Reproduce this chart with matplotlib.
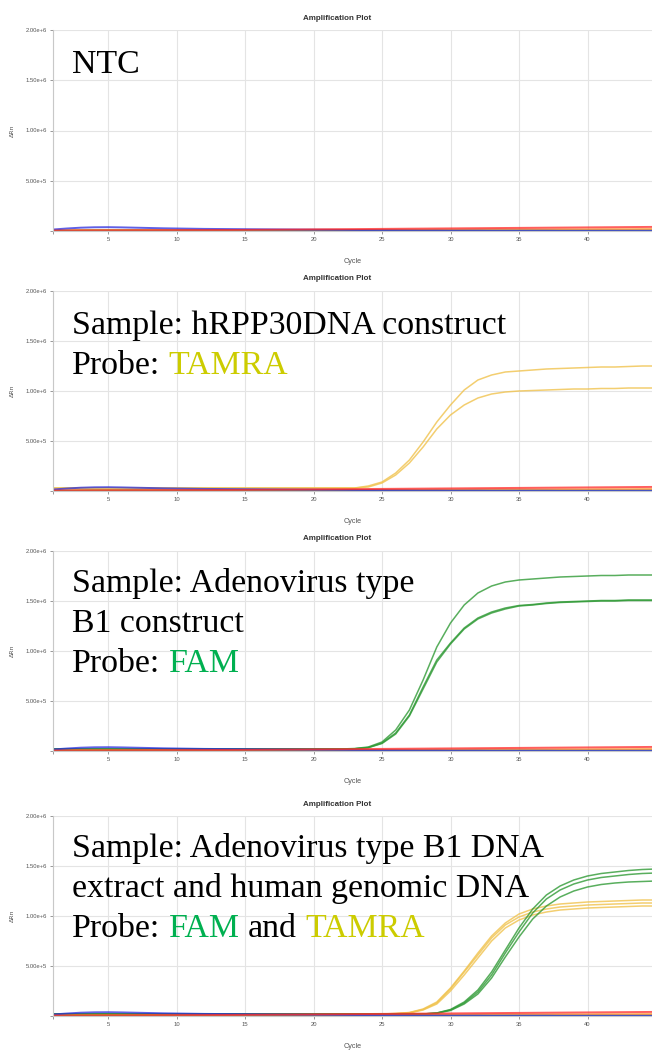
import matplotlib
matplotlib.use("Agg")
import matplotlib.pyplot as plt

# cycles 1..45, values in units of 1e6 dRn
cycles = list(range(1, 46))

# background channels (near-zero), shared by all four runs
blue_base = [0.015, 0.025, 0.033, 0.037, 0.038, 0.036, 0.033, 0.030, 0.027, 0.025, 0.023, 0.021, 0.020, 0.019, 0.018,
             0.017, 0.016, 0.015, 0.014, 0.013, 0.012, 0.011, 0.010, 0.009, 0.008, 0.007, 0.006, 0.005, 0.005, 0.004,
             0.004, 0.004, 0.003, 0.003, 0.003, 0.003, 0.003, 0.002, 0.002, 0.002, 0.002, 0.002, 0.002, 0.002, 0.002]
red_base = [0.004, 0.004, 0.005, 0.005, 0.006, 0.006, 0.007, 0.007, 0.008, 0.008, 0.009, 0.009, 0.010, 0.010, 0.011,
            0.012, 0.013, 0.014, 0.015, 0.016, 0.017, 0.018, 0.019, 0.020, 0.021, 0.022, 0.023, 0.024, 0.025, 0.026,
            0.027, 0.028, 0.029, 0.030, 0.031, 0.032, 0.033, 0.034, 0.035, 0.036, 0.037, 0.038, 0.039, 0.040, 0.041]
orange_base = [0.008, 0.009, 0.010, 0.011, 0.011, 0.011, 0.011, 0.011, 0.011, 0.011, 0.011, 0.011, 0.011, 0.011, 0.011,
               0.011, 0.011, 0.011, 0.011, 0.012, 0.012, 0.012, 0.012, 0.012, 0.013, 0.013, 0.013, 0.013, 0.014, 0.014,
               0.014, 0.015, 0.015, 0.015, 0.016, 0.016, 0.016, 0.017, 0.017, 0.017, 0.018, 0.018, 0.018, 0.019, 0.019]
green_base = [0.004, 0.005, 0.006, 0.007, 0.007, 0.007, 0.007, 0.006, 0.006, 0.006, 0.006, 0.005, 0.005, 0.005, 0.005,
              0.005, 0.005, 0.005, 0.004, 0.004, 0.004, 0.004, 0.004, 0.004, 0.004, 0.004, 0.004, 0.004, 0.004, 0.004,
              0.004, 0.004, 0.004, 0.004, 0.004, 0.004, 0.004, 0.004, 0.004, 0.004, 0.004, 0.004, 0.004, 0.004, 0.004]

# run 2: hRPP30 construct, TAMRA
tamra2_a = [0.03, 0.03, 0.03, 0.03, 0.03, 0.03, 0.03, 0.03, 0.03, 0.03, 0.03, 0.03, 0.03, 0.03, 0.03,
            0.03, 0.03, 0.03, 0.03, 0.03, 0.03, 0.03, 0.03, 0.05, 0.09, 0.18, 0.31, 0.49, 0.69, 0.86,
            1.01, 1.11, 1.16, 1.19, 1.20, 1.21, 1.22, 1.225, 1.23, 1.235, 1.24, 1.24, 1.245, 1.25, 1.25]
tamra2_b = [0.03, 0.03, 0.03, 0.03, 0.03, 0.03, 0.03, 0.03, 0.03, 0.03, 0.03, 0.03, 0.03, 0.03, 0.03,
            0.03, 0.03, 0.03, 0.03, 0.03, 0.03, 0.03, 0.03, 0.04, 0.08, 0.16, 0.28, 0.44, 0.62, 0.76,
            0.86, 0.93, 0.97, 0.99, 1.00, 1.005, 1.01, 1.015, 1.02, 1.02, 1.025, 1.025, 1.03, 1.03, 1.03]

# run 3: adenovirus B1 construct, FAM
fam3_a = [0.02, 0.02, 0.02, 0.02, 0.02, 0.02, 0.02, 0.02, 0.02, 0.02, 0.02, 0.02, 0.02, 0.02, 0.02,
          0.02, 0.02, 0.02, 0.02, 0.02, 0.02, 0.02, 0.025, 0.04, 0.09, 0.21, 0.41, 0.71, 1.04, 1.28,
          1.46, 1.58, 1.65, 1.69, 1.71, 1.72, 1.73, 1.74, 1.745, 1.75, 1.755, 1.755, 1.76, 1.76, 1.76]
fam3_b = [0.02, 0.02, 0.02, 0.02, 0.02, 0.02, 0.02, 0.02, 0.02, 0.02, 0.02, 0.02, 0.02, 0.02, 0.02,
          0.02, 0.02, 0.02, 0.02, 0.02, 0.02, 0.02, 0.022, 0.035, 0.08, 0.18, 0.36, 0.64, 0.91, 1.08,
          1.23, 1.33, 1.39, 1.43, 1.455, 1.465, 1.48, 1.49, 1.495, 1.50, 1.505, 1.505, 1.51, 1.51, 1.51]
fam3_c = [0.02, 0.02, 0.02, 0.02, 0.02, 0.02, 0.02, 0.02, 0.02, 0.02, 0.02, 0.02, 0.02, 0.02, 0.02,
          0.02, 0.02, 0.02, 0.02, 0.02, 0.02, 0.02, 0.022, 0.033, 0.075, 0.17, 0.35, 0.62, 0.89, 1.07,
          1.22, 1.32, 1.38, 1.42, 1.45, 1.46, 1.475, 1.485, 1.49, 1.495, 1.50, 1.50, 1.505, 1.505, 1.505]

# run 4: adenovirus B1 DNA + human genomic DNA, FAM and TAMRA
tamra4_a = [0.02, 0.02, 0.02, 0.02, 0.02, 0.02, 0.02, 0.02, 0.02, 0.02, 0.02, 0.02, 0.02, 0.02, 0.02,
            0.02, 0.02, 0.02, 0.02, 0.02, 0.02, 0.02, 0.02, 0.02, 0.02, 0.025, 0.035, 0.07, 0.14, 0.28,
            0.45, 0.63, 0.80, 0.93, 1.02, 1.07, 1.10, 1.12, 1.13, 1.14, 1.145, 1.15, 1.155, 1.16, 1.16]
tamra4_b = [0.02, 0.02, 0.02, 0.02, 0.02, 0.02, 0.02, 0.02, 0.02, 0.02, 0.02, 0.02, 0.02, 0.02, 0.02,
            0.02, 0.02, 0.02, 0.02, 0.02, 0.02, 0.02, 0.02, 0.02, 0.02, 0.025, 0.033, 0.065, 0.13, 0.27,
            0.44, 0.61, 0.78, 0.91, 0.99, 1.04, 1.07, 1.09, 1.10, 1.11, 1.115, 1.12, 1.125, 1.13, 1.13]
tamra4_c = [0.02, 0.02, 0.02, 0.02, 0.02, 0.02, 0.02, 0.02, 0.02, 0.02, 0.02, 0.02, 0.02, 0.02, 0.02,
            0.02, 0.02, 0.02, 0.02, 0.02, 0.02, 0.02, 0.02, 0.02, 0.02, 0.022, 0.03, 0.06, 0.12, 0.25,
            0.41, 0.58, 0.75, 0.88, 0.96, 1.01, 1.04, 1.06, 1.07, 1.08, 1.085, 1.09, 1.095, 1.10, 1.10]
fam4_a = [0.02, 0.02, 0.02, 0.02, 0.02, 0.02, 0.02, 0.02, 0.02, 0.02, 0.02, 0.02, 0.02, 0.02, 0.02,
          0.02, 0.02, 0.02, 0.02, 0.02, 0.02, 0.02, 0.02, 0.02, 0.02, 0.02, 0.02, 0.02, 0.03, 0.065,
          0.14, 0.26, 0.44, 0.66, 0.88, 1.07, 1.21, 1.30, 1.36, 1.40, 1.425, 1.44, 1.455, 1.465, 1.47]
fam4_b = [0.02, 0.02, 0.02, 0.02, 0.02, 0.02, 0.02, 0.02, 0.02, 0.02, 0.02, 0.02, 0.02, 0.02, 0.02,
          0.02, 0.02, 0.02, 0.02, 0.02, 0.02, 0.02, 0.02, 0.02, 0.02, 0.02, 0.02, 0.02, 0.03, 0.06,
          0.13, 0.24, 0.41, 0.63, 0.84, 1.03, 1.17, 1.26, 1.32, 1.36, 1.385, 1.40, 1.415, 1.425, 1.43]
fam4_c = [0.02, 0.02, 0.02, 0.02, 0.02, 0.02, 0.02, 0.02, 0.02, 0.02, 0.02, 0.02, 0.02, 0.02, 0.02,
          0.02, 0.02, 0.02, 0.02, 0.02, 0.02, 0.02, 0.02, 0.02, 0.02, 0.02, 0.02, 0.02, 0.028, 0.055,
          0.12, 0.22, 0.38, 0.59, 0.79, 0.97, 1.10, 1.19, 1.25, 1.29, 1.315, 1.33, 1.34, 1.345, 1.35]

ytick_vals = [0, 0.5, 1.0, 1.5, 2.0]
ytick_text = ['', '5.00e+5', '1.00e+6', '1.50e+6', '2.00e+6']
xtick_vals = [1, 5, 10, 15, 20, 25, 30, 35, 40, 45]
xtick_text = ['', '5', '10', '15', '20', '25', '30', '35', '40', '']

FAM_C = '#00b050'
TAMRA_C = '#cccc00'
AMP_YELLOW = '#f0c24c'
AMP_GREEN = '#2f9a35'

W, H = 652, 1050
fig = plt.figure(figsize=(W / 100, H / 100), dpi=100)

# pixel layout of the four stacked screenshots: (top, bottom)
panels = [(30, 231), (291, 491), (551, 751), (816, 1016)]
x_left, x_right = 53.2, 656.0

amp_sets = [
    [],
    [(tamra2_a, AMP_YELLOW), (tamra2_b, AMP_YELLOW)],
    [(fam3_a, AMP_GREEN), (fam3_b, AMP_GREEN), (fam3_c, AMP_GREEN)],
    [(tamra4_a, AMP_YELLOW), (tamra4_b, AMP_YELLOW), (tamra4_c, AMP_YELLOW),
     (fam4_a, AMP_GREEN), (fam4_b, AMP_GREEN), (fam4_c, AMP_GREEN)],
]

for (top, bot), amps in zip(panels, amp_sets):
    ax = fig.add_axes([x_left / W, 1 - bot / H, (x_right - x_left) / W, (bot - top) / H])
    ax.set_xlim(1, 45)
    ax.set_ylim(0, 2.0)
    ax.set_xticks(xtick_vals)
    ax.set_xticklabels(xtick_text)
    ax.set_yticks(ytick_vals)
    ax.set_yticklabels(ytick_text)
    ax.tick_params(labelsize=4.2, colors='#888888', labelcolor='#555555', length=2.5, width=0.6, pad=2)
    for lab in ax.get_xticklabels() + ax.get_yticklabels():
        lab.set_family('Liberation Sans')
    ax.grid(True, color='#e4e4e4', lw=0.8)
    ax.set_axisbelow(True)
    for s in ['top', 'right']:
        ax.spines[s].set_visible(False)
    ax.spines['left'].set_color('#c8c8c8')
    ax.spines['bottom'].set_color('#c8c8c8')
    ax.spines['left'].set_linewidth(0.8)
    ax.spines['bottom'].set_linewidth(0.8)

    ax.set_xlabel('Cycle', fontsize=5.2, color='#555555', family='Liberation Sans')
    ax.xaxis.set_label_coords(0.497, -0.135)
    ax.set_ylabel('ΔRn', fontsize=4.5, color='#555555', family='DejaVu Sans')
    ax.yaxis.set_label_coords(-0.063, 0.5)
    ax.text(0.471, 1 + 12 / (bot - top), 'Amplification Plot', transform=ax.transAxes,
            ha='center', va='center', fontsize=5.8, weight='bold', color='#333333',
            family='Liberation Sans')

    for ys, c in amps:
        ax.plot(cycles, ys, color=c, lw=1.1, alpha=0.8)
    ax.plot(cycles, orange_base, color='#ff8c1a', lw=1.3, alpha=0.8)
    ax.plot(cycles, green_base, color='#3c9a3c', lw=1.0, alpha=0.7)
    ax.plot(cycles, blue_base, color='#2b2bdd', lw=1.4, alpha=0.75)
    ax.plot(cycles, red_base, color='#ff2a2a', lw=1.4, alpha=0.75)

renderer = fig.canvas.get_renderer()
FS = 24.4
space_px = 0.25 * FS * 100 / 72


def put_line(ypx, parts, x0=72):
    x = x0
    for i, (s, c) in enumerate(parts):
        t = fig.text(x / W, 1 - ypx / H, s, color=c, fontsize=FS,
                     family='Liberation Serif', va='baseline', ha='left')
        x = t.get_window_extent(renderer).x1 + space_px


put_line(73, [('NTC', 'black')])

put_line(334, [('Sample: hRPP30DNA construct', 'black')])
put_line(374, [('Probe:', 'black'), ('TAMRA', TAMRA_C)])

put_line(592, [('Sample: Adenovirus type', 'black')])
put_line(632, [('B1 construct', 'black')])
put_line(672, [('Probe:', 'black'), ('FAM', FAM_C)])

put_line(857, [('Sample: Adenovirus type B1 DNA', 'black')])
put_line(897, [('extract and human genomic DNA', 'black')])
put_line(937, [('Probe:', 'black'), ('FAM', FAM_C), ('and', 'black'), ('TAMRA', TAMRA_C)])

fig.savefig('out.png', dpi=100)
